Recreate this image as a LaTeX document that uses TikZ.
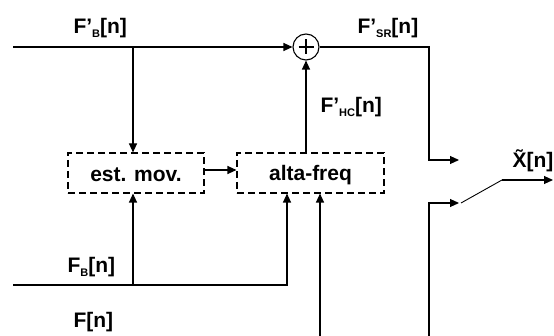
\documentclass[tikz,border=0pt]{standalone}
\usepackage{fontspec}
\setmainfont{Liberation Sans}
\usetikzlibrary{arrows.meta}
\newcommand{\sbs}[1]{\raisebox{-4pt}{\fontsize{11}{11}\selectfont #1}}
\begin{document}
\begin{tikzpicture}[x=1pt,y=-1pt,
  line width=1.1pt,
  arr/.style={-{Triangle[length=9pt,width=8pt]}},
  blk/.style={draw,dashed,dash pattern=on 7pt off 4pt,inner sep=0pt},
  lbl/.style={anchor=base west,inner sep=0pt,font=\fontsize{21}{21}\selectfont\bfseries}]
\useasboundingbox (0,0) rectangle (554,336);
% blocks
\node[blk,minimum width=136pt,minimum height=40pt] (est) at (136,173) {};
\node[lbl,anchor=center] (estt) at (136,175) {est. mov.};
\node[blk,minimum width=147pt,minimum height=40pt] (alta) at (310.5,173) {};
\node[lbl,anchor=center] (altat) at (310.5,175) {alta-freq};
\node[draw,circle,minimum size=26pt,inner sep=0pt] (sum) at (306,47) {};
\draw[line width=1.4pt] (sum.center) ++(-7.5,0) -- ++(15,0) (sum.center) ++(0,-7.5) -- ++(0,15);
% coordinates
\coordinate (in1) at (13,47);
\coordinate (b1) at (133,47);
\coordinate (c1) at (429,47);
\coordinate (o1) at (459,160);
\coordinate (in2) at (13,285);
\coordinate (b2) at (133,285);
\coordinate (a1) at (287,285);
\coordinate (in3) at (320,336);
\coordinate (in4) at (429,336);
\coordinate (o2) at (459,203);
\coordinate (s1) at (461,203);
\coordinate (s2) at (502,180);
\coordinate (out) at (553,180);
% connectors
\draw[arr] (in1) -- (sum.west);
\draw[arr] (b1) -- (b1 |- est.north);
\draw[arr] (est.east |- 0,170) -- (alta.west |- 0,170);
\draw[arr] (alta.north -| sum) -- (sum.south);
\draw[arr] (sum.east) -- (c1) -- (c1 |- o1) -- (o1);
\draw[arr] (in2) -- (a1) -- (a1 |- alta.south);
\draw[arr] (b2) -- (b2 |- est.south);
\draw[arr] (in3) -- (in3 |- alta.south);
\draw[arr] (in4) -- (in4 |- o2) -- (o2);
\draw[line width=0.9pt] (s1) -- (s2);
\draw[arr] (s2) -- (out);
% labels
\node[lbl] (lfb) at (73,34) {F’\sbs{B}[n]};
\node[lbl] (lsr) at (357,34) {F’\sbs{SR}[n]};
\node[lbl] (lhc) at (320,113) {F’\sbs{HC}[n]};
\node[lbl] (lx) at (512,168) {\~{X}[n]};
\node[lbl] (lb) at (67,273) {F\sbs{B}[n]};
\node[lbl] (lf) at (73,328) {F[n]};
\end{tikzpicture}
\end{document}
